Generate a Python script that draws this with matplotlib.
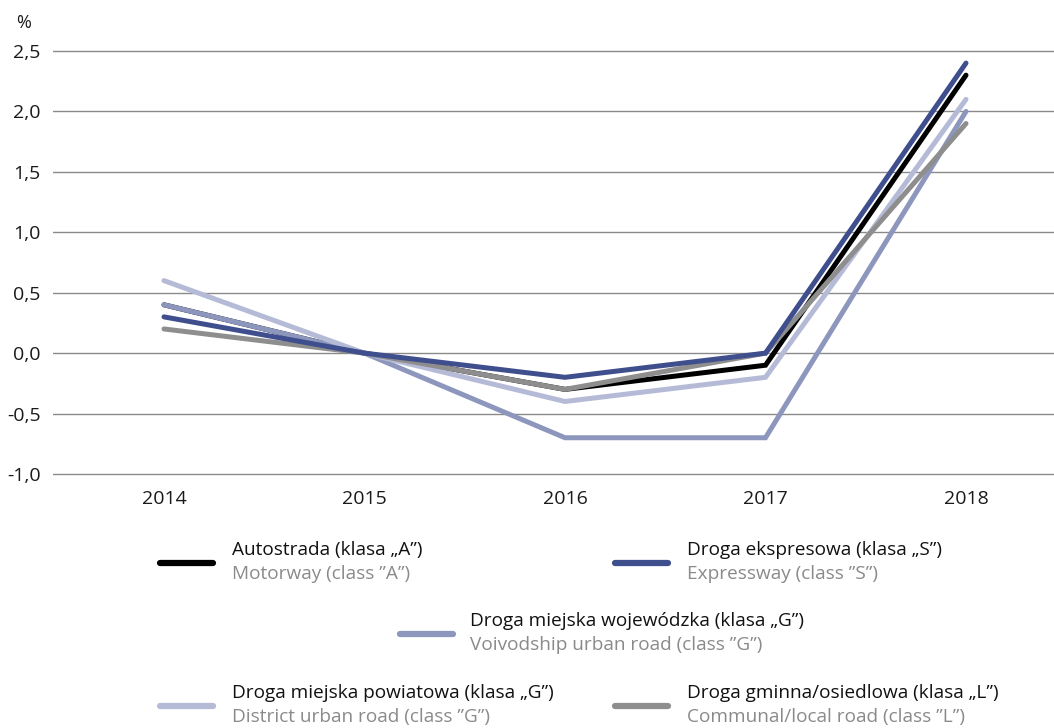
import matplotlib
matplotlib.use("Agg")
import matplotlib.pyplot as plt
from matplotlib.lines import Line2D

plt.rcParams['font.family'] = ['Open Sans', 'DejaVu Sans']

years = [2014, 2015, 2016, 2017, 2018]
autostrada = [0.4, 0.0, -0.3, -0.1, 2.3]
ekspresowa = [0.3, 0.0, -0.2, 0.0, 2.4]
wojewodzka = [0.4, 0.0, -0.7, -0.7, 2.0]
powiatowa = [0.6, 0.0, -0.4, -0.2, 2.1]
gminna = [0.2, 0.0, -0.3, 0.0, 1.9]
yticks = [-1.0, -0.5, 0.0, 0.5, 1.0, 1.5, 2.0, 2.5]

labels_pl = ['Autostrada (klasa \u201eA\u201d)', 'Droga ekspresowa (klasa \u201eS\u201d)',
             'Droga miejska wojew\u00f3dzka (klasa \u201eG\u201d)',
             'Droga miejska powiatowa (klasa \u201eG\u201d)', 'Droga gminna/osiedlowa (klasa \u201eL\u201d)']
labels_en = ['Motorway (class \u201dA\u201d)', 'Expressway (class \u201dS\u201d)',
             'Voivodship urban road (class \u201dG\u201d)',
             'District urban road (class \u201dG\u201d)', 'Communal/local road (class \u201dL\u201d)']
colors = ['#000000', '#3f4e8c', '#8d97bd', '#b5bbd7', '#8e8e8e']
series = [autostrada, ekspresowa, wojewodzka, powiatowa, gminna]

W, H = 1054, 728
fig = plt.figure(figsize=(W / 100, H / 100), dpi=100)
ylo, yhi = -1.02, 2.52
per = (474 - 51) / 3.5
top_px = 51 - (yhi - 2.5) * per
bot_px = 474 + (-1.0 - ylo) * per
ax = fig.add_axes([53 / W, 1 - bot_px / H, 1 - 53 / W, (bot_px - top_px) / H])
ax.set_ylim(ylo, yhi)
x_left = 2014 - (164 - 53) / ((966 - 164) / 4)
ax.set_xlim(x_left, 2018 + (1054 - 966) / ((966 - 164) / 4))

for y in yticks:
    ax.axhline(y, color='#8a8a8a', lw=1.0, zorder=1)

order = [0, 2, 3, 4, 1]
for i in order:
    ax.plot(years, series[i], color=colors[i], lw=3.6, solid_capstyle='round',
            solid_joinstyle='miter', zorder=3 + order.index(i))

for s in ax.spines.values():
    s.set_visible(False)
ax.set_xticks(years)
ax.set_xticklabels([str(y) for y in years])
ax.set_yticks(yticks)
ax.set_yticklabels([f"{y:.1f}".replace('.', ',') for y in yticks])
ax.tick_params(length=0, labelsize=14, colors='#1a1a1a')
ax.tick_params(axis='x', pad=10)
ax.tick_params(axis='y', pad=9)

fig.text(24 / W, 1 - 23 / H, '%', ha='center', va='center', fontsize=13, color='#1a1a1a')

legend_pos = [(160, 563), (615, 563), (400, 634), (160, 706), (615, 706)]
for i, (lx, ly) in enumerate(legend_pos):
    fig.add_artist(Line2D([lx / W, (lx + 53) / W], [1 - ly / H, 1 - ly / H],
                          color=colors[i], lw=4.5, solid_capstyle='round'))
    tx = lx + 72 if i != 2 else lx + 70
    fig.text(tx / W, 1 - (ly - 13) / H, labels_pl[i], ha='left', va='center',
             fontsize=13.7, color='#111111')
    fig.text(tx / W, 1 - (ly + 11) / H, labels_en[i], ha='left', va='center',
             fontsize=13.7, color='#8a8a8a')

fig.savefig('out.png', dpi=100)
